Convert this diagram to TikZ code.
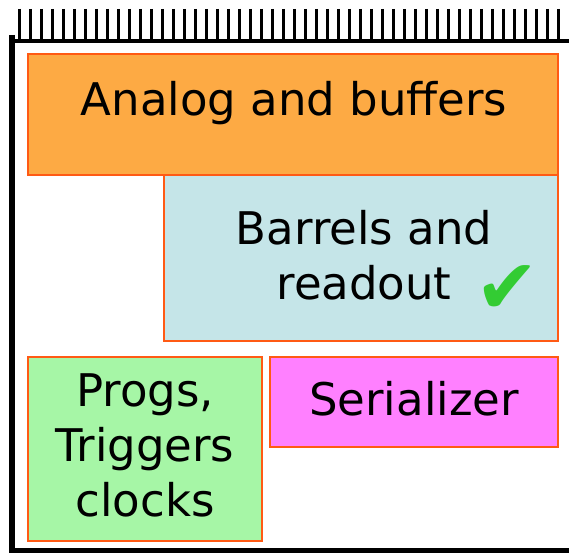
\documentclass[tikz,border=0pt]{standalone}
\usepackage{fontspec}
\setmainfont{DejaVu Sans}
\definecolor{analogfill}{RGB}{253,170,68}
\definecolor{barrelfill}{RGB}{197,229,232}
\definecolor{progsfill}{RGB}{166,246,166}
\definecolor{serialfill}{RGB}{255,128,255}
\definecolor{blockedge}{RGB}{255,90,20}
\definecolor{tickgreen}{RGB}{51,204,51}
\tikzset{
  block/.style={draw=blockedge, line width=2bp},
  blocktext/.style={font=\fontsize{45bp}{55bp}\selectfont, align=center, inner sep=0pt}
}
\begin{document}
\begin{tikzpicture}[x=1bp, y=-1bp]
            \useasboundingbox (0,0) rectangle (569,553);
            % comb along the top edge
            \foreach \i in {0,...,49}
                \draw [line width=2.6bp] (19.5+11*\i,9) -- (19.5+11*\i,41);
            \draw [line width=4bp] (10,41) -- (569,41);
            \draw [line width=6bp] (12,35) -- (12,553);
            \draw [line width=5bp] (10,550.5) -- (569,550.5);
            % blocks
            \draw [block, fill=analogfill] (28,54) rectangle (558,175);
            \draw [block, fill=barrelfill] (164,175) rectangle (558,341);
            \draw [block, fill=progsfill] (28,357) rectangle (262,541);
            \draw [block, fill=serialfill] (270,357) rectangle (558,447);
            \node [blocktext, anchor=base] (analog) at (294,116) {Analog and buffers};
            \node [blocktext] (barrels) at (364,255) {Barrels and\\readout};
            \node [blocktext] (progs) at (145,445) {Progs,\\Triggers\\clocks};
            \node [blocktext, anchor=base] (serial) at (414,415) {Serializer};
            \node [font=\fontsize{76bp}{76bp}\selectfont, text=tickgreen, inner sep=0pt] (done) at (507,290) {✔};
\end{tikzpicture}
\end{document}
